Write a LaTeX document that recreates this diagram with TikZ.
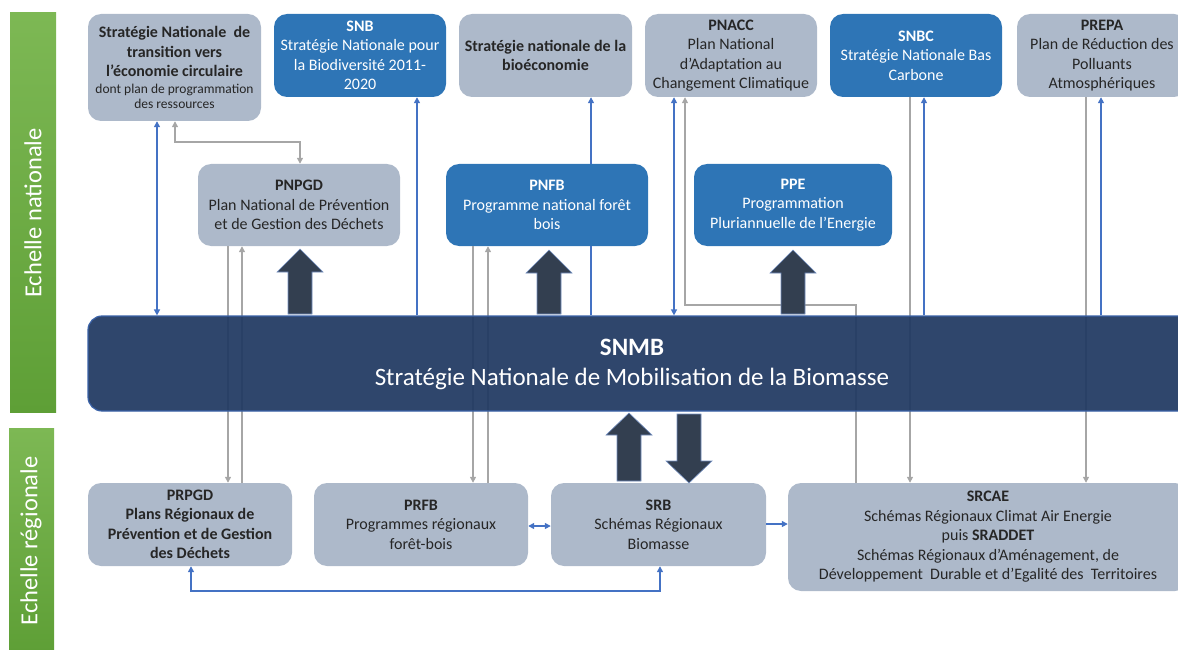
\documentclass[tikz,border=0pt]{standalone}
\usepackage{fontspec}
\setmainfont{Carlito}
\usetikzlibrary{arrows.meta}
\definecolor{boxgray}{HTML}{ADB9CA}
\definecolor{boxblue}{HTML}{2E75B6}
\definecolor{snmbnavy}{HTML}{223A63}
\definecolor{snmbedge}{HTML}{3A62A8}
\definecolor{darkarr}{HTML}{333F50}
\definecolor{lineblue}{HTML}{4472C4}
\definecolor{linegray}{HTML}{A6A6A6}
\definecolor{txtdark}{HTML}{262626}
\definecolor{greentop}{HTML}{7DB854}
\definecolor{greenbot}{HTML}{5E9F36}
\newcommand\fs[2]{\fontsize{#1}{#2}\selectfont}
\newcommand\bigup[4]{\filldraw[fatarrow] (#1-12,#4) -- (#1-12,#3) -- (#1-23,#3) -- (#1,#2) -- (#1+23,#3) -- (#1+12,#3) -- (#1+12,#4) -- cycle;}
\newcommand\bigdown[4]{\filldraw[fatarrow] (#1-12,#4) -- (#1-12,#3) -- (#1-23,#3) -- (#1,#2) -- (#1+23,#3) -- (#1+12,#3) -- (#1+12,#4) -- cycle;}
\tikzset{
  box/.style={rectangle, rounded corners=13pt, inner sep=0pt, align=center, font=\fs{16}{19.5}},
  gbox/.style={box, fill=boxgray, text=txtdark},
  bbox/.style={box, fill=boxblue, text=white},
  tipA/.tip={Triangle[length=6pt,width=6pt]},
  bl/.style={draw=lineblue, line width=1.4pt},
  gl/.style={draw=linegray, line width=1.4pt},
  ba/.style={bl, -tipA},
  bba/.style={bl, tipA-tipA},
  ga/.style={gl, -tipA},
  gga/.style={gl, tipA-tipA},
  fatarrow/.style={fill=darkarr, draw=snmbedge!70, line width=0.6pt},
  scale label/.style={rotate=90, text=white, font=\fs{24.5}{28}}
}
\begin{document}
\begin{tikzpicture}[x=1pt,y=-1pt]
\useasboundingbox (0,0) rectangle (1178,650);
% green scale bars
\shade[top color=greentop, bottom color=greenbot] (10,13) rectangle (56,412);
\shade[top color=greentop, bottom color=greenbot] (9,428) rectangle (54,652);
\node[scale label] (labnat) at (33,213) {Echelle nationale};
\node[scale label] (labreg) at (31,541) {Echelle régionale};

% helper coordinates
\foreach \xx in {157,175,191,228,242,300,417,473,488,591,660,674,685,856,910,924,1086,1101}
  \coordinate (x\xx) at (\xx,0);
\coordinate (y524) at (0,524);
\coordinate (y526) at (0,526);

% top row
\node[gbox, minimum width=173pt, minimum height=107pt] (circ) at (174.5,67.5)
 {\textbf{Stratégie Nationale\ \ de}\\\textbf{transition vers}\\\textbf{l’économie circulaire}\\[-3pt]{\fs{13.5}{16}dont plan de programmation}\\[-4pt]{\fs{13.5}{16}des ressources}};
\node[bbox, minimum width=172pt, minimum height=83pt] (snb) at (360,55.5)
 {\textbf{SNB}\\Stratégie Nationale pour\\la Biodiversité 2011-\\2020};
\node[gbox, minimum width=173pt, minimum height=83pt] (bioeco) at (545.5,55.5)
 {\textbf{Stratégie nationale de la}\\\textbf{bioéconomie}};
\node[gbox, minimum width=172pt, minimum height=83pt] (pnacc) at (731,55.5)
 {\textbf{PNACC}\\Plan National\\d’Adaptation au\\Changement Climatique};
\node[bbox, minimum width=172pt, minimum height=83pt] (snbc) at (916,55.5)
 {\textbf{SNBC}\\Stratégie Nationale Bas\\Carbone};
\node[gbox, minimum width=170pt, minimum height=83pt] (prepa) at (1102,55.5)
 {\textbf{PREPA}\\Plan de Réduction des\\Polluants\\Atmosphériques};

% middle row
\node[gbox, minimum width=202pt, minimum height=82pt] (pnpgd) at (299,205)
 {\textbf{PNPGD}\\Plan National de Prévention\\et de Gestion des Déchets};
\node[bbox, minimum width=202pt, minimum height=82pt] (pnfb) at (547,205)
 {\textbf{PNFB}\\Programme national forêt\\bois};
\node[bbox, minimum width=198pt, minimum height=82pt] (ppe) at (793,205)
 {\textbf{PPE}\\Programmation\\Pluriannuelle de l’Energie};

% bottom row
\node[gbox, minimum width=204pt, minimum height=83pt] (prpgd) at (190,524.5)
 {\textbf{PRPGD}\\\textbf{Plans Régionaux de}\\\textbf{Prévention et de Gestion}\\\textbf{des Déchets}};
\node[gbox, minimum width=214pt, minimum height=83pt] (prfb) at (421,524.5)
 {\textbf{PRFB}\\Programmes régionaux\\forêt-bois};
\node[gbox, minimum width=215pt, minimum height=83pt] (srb) at (658.5,524.5)
 {\textbf{SRB}\\Schémas Régionaux\\Biomasse};
\node[gbox, minimum width=400pt, minimum height=108pt, font=\fs{16}{19.5}] (srcae) at (988,537)
 {\textbf{SRCAE}\\Schémas Régionaux Climat Air Energie\\puis \textbf{SRADDET}\\Schémas Régionaux d’Aménagement, de\\Développement\ \ Durable et d’Egalité des\ \ Territoires};

% gray connectors
\coordinate (k3) at (175,142);
\coordinate (k4) at (300,142);
\draw[gga] (circ.south -| k3) -- (k3) -- (k4) -- (pnpgd.north -| k4);
\draw[ga] (pnpgd.south -| x228) -- (prpgd.north -| x228);
\draw[ga] (prpgd.north -| x242) -- (pnpgd.south -| x242);
\draw[ga] (pnfb.south -| x473) -- (prfb.north -| x473);
\draw[ga] (prfb.north -| x488) -- (pnfb.south -| x488);
\coordinate (k1) at (856,305);
\coordinate (k2) at (685,305);
\draw[ga] (srcae.north -| k1) -- (k1) -- (k2) -- (pnacc.south -| k2);
\draw[ga] (snbc.south -| x910) -- (srcae.north -| x910);
\draw[ga] (prepa.south -| x1086) -- (srcae.north -| x1086);

% central box
\node[rectangle, rounded corners=14pt, fill=snmbnavy, fill opacity=0.94, draw=snmbedge, line width=1.2pt,
      minimum width=1120pt, minimum height=95pt, inner sep=0pt] (snmb) at (648,363.5) {};
\node[text=white, align=center, font=\fs{25}{30}] (snmbtext) at (632,364)
 {\textbf{SNMB}\\Stratégie Nationale de Mobilisation de la Biomasse};

% blue connectors
\draw[bba] (circ.south -| x157) -- (snmb.north -| x157);
\draw[ba] (snmb.north -| x417) -- (snb.south -| x417);
\draw[bl] (snmb.north -| x591) -- (pnfb.south -| x591);
\draw[ba] (pnfb.north -| x591) -- (bioeco.south -| x591);
\draw[bba] (snmb.north -| x674) -- (pnacc.south -| x674);
\draw[ba] (snmb.north -| x924) -- (snbc.south -| x924);
\draw[ba] (snmb.north -| x1101) -- (prepa.south -| x1101);
\draw[bba] (prfb.east |- y526) -- (srb.west |- y526);
\draw[ba] (srb.east |- y524) -- (srcae.west |- y524);
\coordinate (k5) at (191,591);
\coordinate (k6) at (660,591);
\draw[bba] (prpgd.south -| k5) -- (k5) -- (k6) -- (srb.south -| k6);

% thick arrows
\bigup{300}{249}{272}{314}
\bigup{549}{250}{273}{314}
\bigup{793}{250}{273}{314}
\bigup{629}{413}{435}{481}
\bigdown{689}{483}{461}{414}
\end{tikzpicture}
\end{document}
